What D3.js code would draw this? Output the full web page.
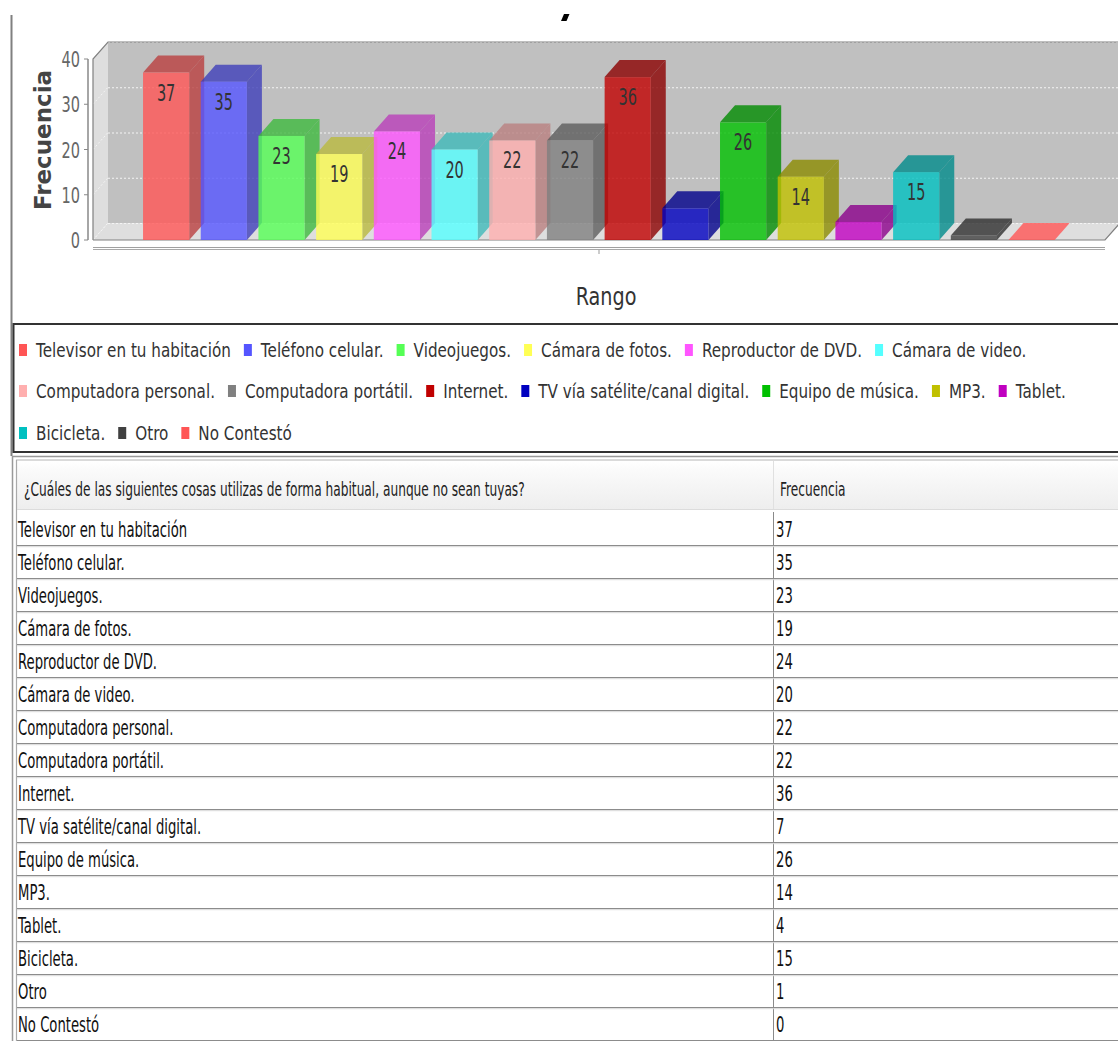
<!DOCTYPE html>
<html><head><meta charset="utf-8">
<script src="https://cdn.jsdelivr.net/npm/d3@7"></script>
<style>
body{margin:0;background:#fff;}
svg{display:block;}
text{font-family:"DejaVu Sans",Tahoma,Verdana,sans-serif;}
</style>
</head><body>
<svg id="c" width="1118" height="1041"></svg>
<script>
// ---------- data ----------
const categories = ["Televisor en tu habitación","Teléfono celular.","Videojuegos.","Cámara de fotos.","Reproductor de DVD.","Cámara de video.","Computadora personal.","Computadora portátil.","Internet.","TV vía satélite/canal digital.","Equipo de música.","MP3.","Tablet.","Bicicleta.","Otro","No Contestó"];
const values = [37,35,23,19,24,20,22,22,36,7,26,14,4,15,1,0];
const colors = ["#ff5555","#5555ff","#55ff55","#ffff55","#ff55ff","#55ffff","#ffafaf","#808080","#c00000","#0000c0","#00c000","#c0c000","#c000c0","#00c0c0","#404040","#ff5555"];
const yTicks = [0,10,20,30,40];
const yAxisTitle = "Frecuencia";
const xAxisTitle = "Rango";
const tableHeader = ["¿Cuáles de las siguientes cosas utilizas de forma habitual, aunque no sean tuyas?","Frecuencia"];

// ---------- helpers ----------
const svg = d3.select("#c");
function txt(g, x, y, s, o) {
  o = o || {};
  const sx = o.sx || 1;
  return g.append("text")
    .attr("transform", `translate(${x},${y}) scale(${sx},1)`)
    .attr("font-size", o.size || 16)
    .attr("font-weight", o.weight || "normal")
    .attr("fill", o.fill || "#222")
    .attr("text-anchor", o.anchor || "start")
    .text(s);
}
const poly = pts => "M" + pts.map(p => p.join(",")).join("L") + "Z";

// ---------- panel border + title fragment ----------
svg.append("line").attr("x1",11.5).attr("x2",11.5).attr("y1",15).attr("y2",456)
  .attr("stroke","#808080").attr("stroke-width",2);
svg.append("path").attr("d","M561,21L564,14L569.5,14L566.5,21Z").attr("fill","#000");

// ---------- 3D bar plot ----------
const DX = 15, DY = 17;
const x0 = 93, x1 = 1105;
const y = d3.scaleLinear().domain([0,40]).range([240,59]);
const xb = d3.scaleBand().domain(categories).range([131.5,1066.2]).paddingInner(0.2).paddingOuter(0.2);
const yb = y(0), yt = y(40);
const plot = svg.append("g");

// back wall
plot.append("path").attr("d", poly([[x0+DX,yt-DY],[x1+DX+10,yt-DY],[x1+DX+10,yb-DY],[x0+DX,yb-DY]])).attr("fill","#c0c0c0");
// left wall
plot.append("path").attr("d", poly([[x0,yt],[x0+DX,yt-DY],[x0+DX,yb-DY],[x0,yb]])).attr("fill","#dedede");
// floor
plot.append("path").attr("d", poly([[x0,yb],[x0+DX,yb-DY],[x1+DX,yb-DY],[x1,yb]])).attr("fill","#dedede");
// gridlines
yTicks.forEach(v => {
  plot.append("line").attr("x1",x0+DX).attr("x2",x1+DX+10).attr("y1",y(v)-DY+0.5).attr("y2",y(v)-DY+0.5)
    .attr("stroke","#f4f4f4").attr("stroke-width",1).attr("stroke-dasharray","2,2");
  plot.append("line").attr("x1",x0).attr("x2",x0+DX).attr("y1",y(v)).attr("y2",y(v)-DY)
    .attr("stroke","#f4f4f4").attr("stroke-width",1).attr("stroke-dasharray","2,2");
});
// outlines
plot.append("path").attr("d",`M${x0},${yb}L${x0},${yt}L${x0+DX},${yt-DY}L${x1+DX+10},${yt-DY}`)
  .attr("fill","none").attr("stroke","#808080").attr("stroke-width",1.2);
plot.append("path").attr("d",`M${x0},${yb}L${x1},${yb}L${x1+DX},${yb-DY}`)
  .attr("fill","none").attr("stroke","#808080").attr("stroke-width",1.2);

// bars
const bw = xb.bandwidth();
categories.forEach((c,i) => {
  const v = values[i], bx = xb(c), by = y(v);
  const col = d3.color(colors[i]);
  const dark = col.darker(0.9).formatHex();
  const g = plot.append("g").attr("fill-opacity",0.8);
  g.append("path").attr("d", poly([[bx+bw,by],[bx+bw+DX,by-DY],[bx+bw+DX,yb-DY],[bx+bw,yb]])).attr("fill",dark);
  g.append("path").attr("d", poly([[bx,by],[bx+DX,by-DY],[bx+bw+DX,by-DY],[bx+bw,by]])).attr("fill", v > 0 ? dark : colors[i]);
  if (v > 0) g.append("rect").attr("x",bx).attr("y",by).attr("width",bw).attr("height",yb-by).attr("fill",colors[i]);
});
// bar labels
categories.forEach((c,i) => {
  const v = values[i];
  if (yb - y(v) > 40) txt(plot, xb(c)+bw/2, y(v)+28, String(v), {size:23, sx:0.63, anchor:"middle", fill:"#333"});
});

// y axis
const ya = svg.append("g");
ya.append("line").attr("x1",88).attr("x2",88).attr("y1",yt).attr("y2",yb).attr("stroke","#888").attr("stroke-width",1.5);
yTicks.forEach(v => {
  ya.append("line").attr("x1",84).attr("x2",88).attr("y1",y(v)).attr("y2",y(v)).attr("stroke","#888");
  txt(ya, 80, y(v)+8, String(v), {size:22, sx:0.66, anchor:"end", fill:"#666"});
});
svg.append("text").attr("transform","translate(51,140) rotate(-90)")
  .attr("font-size",23).attr("font-weight","bold").attr("fill","#444").attr("text-anchor","middle").text(yAxisTitle);

// category axis
svg.append("line").attr("x1",x0).attr("x2",x1).attr("y1",247.5).attr("y2",247.5).attr("stroke","#a0a0a0").attr("stroke-width",1.2);
svg.append("line").attr("x1",x0).attr("x2",x1).attr("y1",249.5).attr("y2",249.5).attr("stroke","#a8a8a8").attr("stroke-width",1.2);
svg.append("line").attr("x1",(x0+x1)/2).attr("x2",(x0+x1)/2).attr("y1",250).attr("y2",254).attr("stroke","#999");
txt(svg, 606, 305, xAxisTitle, {size:24, sx:0.8, anchor:"middle", fill:"#333"});

// ---------- legend ----------
const lg = svg.append("g");
lg.append("rect").attr("x",13.5).attr("y",324).attr("width",1115).attr("height",128)
  .attr("fill","none").attr("stroke","#333").attr("stroke-width",2);
const rowY = [350,391,433];
const LSX = 0.76, LSIZE = 20;
let lx = 19, row = 0;
categories.forEach((c,i) => {
  const t = txt(lg, 0, 0, c, {size:LSIZE, sx:LSX, fill:"#333"});
  const w = t.node().getComputedTextLength() * LSX;
  if (lx + 17 + w > 1110) { row++; lx = 19; }
  t.attr("transform", `translate(${lx+17},${rowY[row]+7}) scale(${LSX},1)`);
  lg.append("rect").attr("x",lx).attr("y",rowY[row]-6).attr("width",8).attr("height",12).attr("fill",colors[i]);
  lx += 17 + w + 13;
});

// ---------- table ----------
const tb = svg.append("g");
const defs = svg.append("defs");
const gr = defs.append("linearGradient").attr("id","hdr").attr("x1",0).attr("x2",0).attr("y1",0).attr("y2",1);
gr.append("stop").attr("offset",0).attr("stop-color","#ffffff");
gr.append("stop").attr("offset",0.2).attr("stop-color","#fafafa");
gr.append("stop").attr("offset",1).attr("stop-color","#eeeeee");
tb.append("rect").attr("x",17).attr("y",461).attr("width",1101).attr("height",48).attr("fill","url(#hdr)");
tb.append("line").attr("x1",12).attr("x2",1118).attr("y1",456.5).attr("y2",456.5).attr("stroke","#999").attr("stroke-width",1.5);
tb.append("line").attr("x1",16).attr("x2",1118).attr("y1",460).attr("y2",460).attr("stroke","#b5b5b5").attr("stroke-width",1.2);
tb.append("line").attr("x1",12.5).attr("x2",12.5).attr("y1",456).attr("y2",1041).attr("stroke","#999").attr("stroke-width",1.5);
tb.append("line").attr("x1",16.5).attr("x2",16.5).attr("y1",460).attr("y2",1041).attr("stroke","#aaa").attr("stroke-width",1.2);
tb.append("line").attr("x1",17).attr("x2",1118).attr("y1",509.5).attr("y2",509.5).attr("stroke","#dcdcdc");
tb.append("line").attr("x1",773.5).attr("x2",773.5).attr("y1",461).attr("y2",509).attr("stroke","#e0e0e0");
txt(tb, 24, 496, tableHeader[0], {size:20, sx:0.61, fill:"#222"});
txt(tb, 780, 496, tableHeader[1], {size:20, sx:0.61, fill:"#222"});

const ry = d3.scaleBand().domain(categories).range([512.5,1040.5]);
tb.append("line").attr("x1",773.5).attr("x2",773.5).attr("y1",512).attr("y2",1041).attr("stroke","#8a8a8a");
categories.forEach((c,i) => {
  const top = ry(c), bot = top + ry.bandwidth();
  tb.append("line").attr("x1",17).attr("x2",1118).attr("y1",bot).attr("y2",bot).attr("stroke","#8c8c8c");
  tb.append("line").attr("x1",17).attr("x2",1118).attr("y1",bot+1.2).attr("y2",bot+1.2).attr("stroke","#d8d8d8");
  txt(tb, 18, top+24, c, {size:22, sx:0.6, fill:"#111"});
  txt(tb, 776, top+24, String(values[i]), {size:22, sx:0.6, fill:"#111"});
});
</script>
</body></html>
